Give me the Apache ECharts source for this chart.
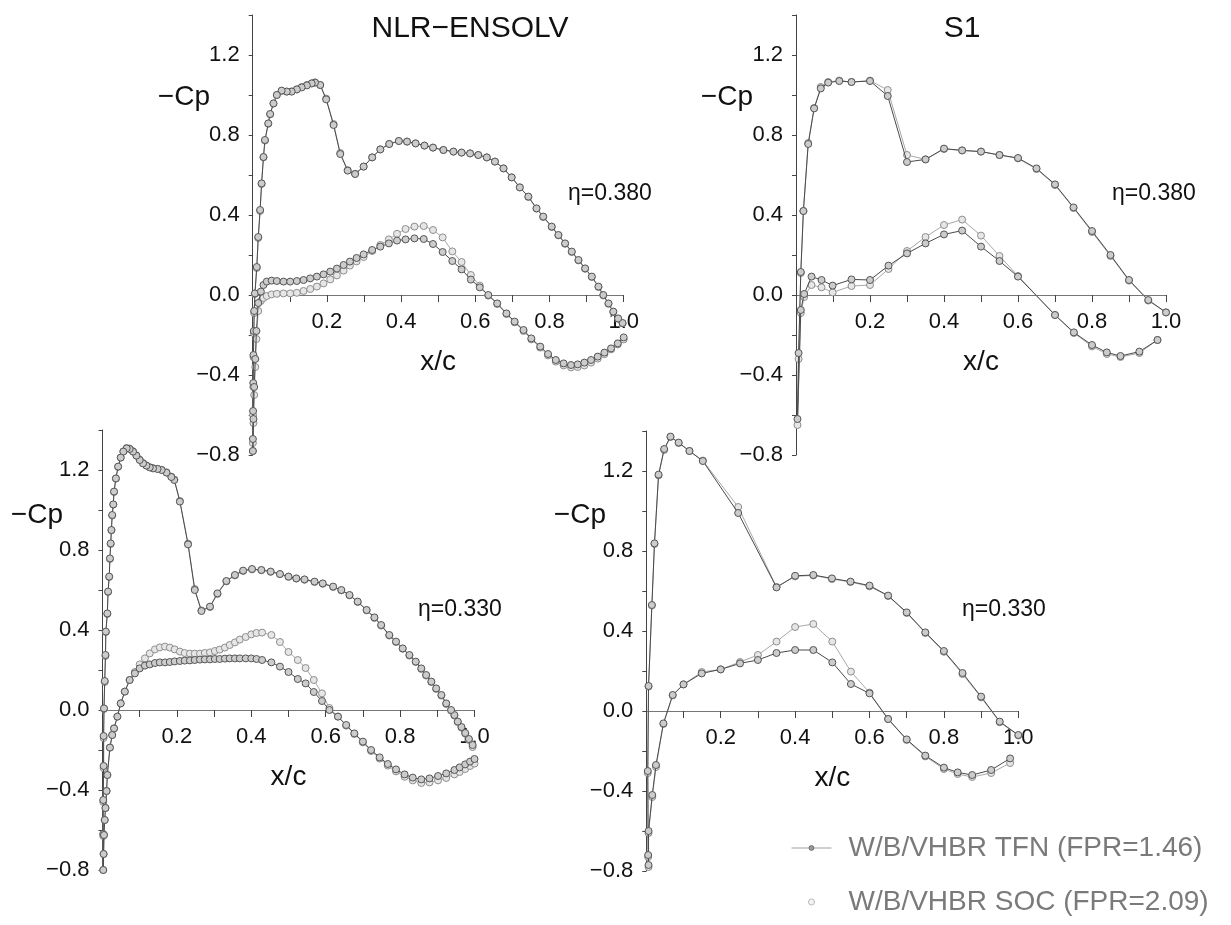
<!DOCTYPE html>
<html>
<head>
<meta charset="utf-8">
<title>Wing section pressure distributions</title>
<script src="https://cdn.jsdelivr.net/npm/echarts@6.0.0/dist/echarts.min.js"></script>
<style>
  html, body { margin: 0; padding: 0; background: #ffffff; }
  #chart { width: 1231px; height: 925px; }
</style>
</head>
<body>
<div id="chart"></div>
<script>
// ---- NLR-ENSOLV, eta = 0.380 ----
const nlr38_upperX   = [0.0005,0.001,0.0015,0.002,0.003,0.004,0.006,0.011,0.015,0.020,0.024,0.029,0.033,0.042,0.047,0.056,0.065,0.078,0.092,0.105,0.119,0.132,0.146,0.159,0.168,0.182,0.198,0.218,0.236,0.256,0.276,0.299,0.322,0.344,0.368,0.394,0.416,0.439,0.463,0.486,0.514,0.541,0.563,0.586,0.608,0.631,0.653,0.676,0.698,0.72,0.743,0.765,0.783,0.806,0.824,0.842,0.86,0.878,0.896,0.914,0.932,0.945,0.959,0.972,0.985,0.997];
const nlr38_upperTFN = [-0.72,-0.58,-0.44,-0.3,-0.18,-0.08,0.008,0.14,0.29,0.425,0.558,0.69,0.775,0.858,0.905,0.958,1.0,1.022,1.017,1.017,1.028,1.038,1.048,1.058,1.062,1.05,0.978,0.85,0.705,0.622,0.605,0.642,0.688,0.728,0.755,0.77,0.767,0.758,0.747,0.737,0.725,0.717,0.712,0.708,0.70,0.688,0.667,0.633,0.588,0.538,0.492,0.433,0.392,0.342,0.30,0.258,0.217,0.175,0.133,0.092,0.042,0.0,-0.042,-0.083,-0.117,-0.14];
const nlr38_upperSOC = [-0.74,-0.6,-0.46,-0.31,-0.19,-0.09,0.005,0.135,0.285,0.42,0.555,0.688,0.772,0.856,0.903,0.957,1.0,1.02,1.017,1.018,1.028,1.04,1.05,1.058,1.063,1.05,0.982,0.855,0.71,0.624,0.606,0.642,0.688,0.728,0.755,0.77,0.767,0.758,0.747,0.737,0.725,0.717,0.712,0.708,0.70,0.688,0.667,0.633,0.588,0.538,0.49,0.432,0.39,0.34,0.298,0.256,0.215,0.173,0.131,0.09,0.04,-0.002,-0.044,-0.085,-0.119,-0.142];
const nlr38_lowerX   = [0.0005,0.002,0.004,0.007,0.010,0.015,0.022,0.029,0.038,0.051,0.065,0.083,0.101,0.119,0.137,0.155,0.173,0.191,0.209,0.227,0.245,0.262,0.28,0.299,0.322,0.344,0.367,0.389,0.412,0.436,0.461,0.486,0.512,0.538,0.563,0.588,0.612,0.635,0.659,0.684,0.706,0.73,0.751,0.775,0.796,0.817,0.838,0.858,0.876,0.894,0.912,0.93,0.948,0.966,0.984,1.0];
const nlr38_lowerTFN = [-0.78,-0.62,-0.46,-0.32,-0.18,-0.04,0.017,0.05,0.067,0.072,0.07,0.067,0.067,0.07,0.075,0.083,0.092,0.103,0.117,0.132,0.15,0.167,0.185,0.203,0.225,0.242,0.258,0.272,0.278,0.283,0.28,0.255,0.215,0.17,0.128,0.077,0.038,0.0,-0.042,-0.092,-0.133,-0.175,-0.217,-0.258,-0.295,-0.325,-0.342,-0.35,-0.347,-0.338,-0.325,-0.308,-0.288,-0.267,-0.242,-0.212];
const nlr38_lowerSOC = [-0.78,-0.64,-0.5,-0.36,-0.22,-0.08,-0.03,-0.015,-0.005,0.003,0.006,0.008,0.008,0.011,0.02,0.03,0.042,0.058,0.078,0.098,0.122,0.147,0.168,0.19,0.22,0.25,0.278,0.306,0.33,0.342,0.345,0.325,0.288,0.218,0.165,0.10,0.047,-0.003,-0.045,-0.095,-0.137,-0.18,-0.222,-0.263,-0.302,-0.333,-0.352,-0.362,-0.36,-0.352,-0.338,-0.318,-0.296,-0.272,-0.247,-0.222];

// ---- S1, eta = 0.380 ----
const s1_38_upperX   = [0.004,0.007,0.013,0.02,0.033,0.049,0.067,0.087,0.117,0.15,0.20,0.248,0.30,0.35,0.40,0.449,0.50,0.55,0.60,0.65,0.70,0.75,0.80,0.85,0.90,0.952,1.0];
const s1_38_upperTFN = [-0.62,-0.29,0.115,0.42,0.755,0.933,1.033,1.062,1.07,1.065,1.07,0.995,0.665,0.678,0.732,0.723,0.717,0.70,0.685,0.633,0.553,0.438,0.32,0.20,0.075,-0.025,-0.087];
const s1_38_upperSOC = [-0.65,-0.32,0.11,0.42,0.76,0.935,1.04,1.065,1.072,1.065,1.072,1.025,0.70,0.678,0.73,0.723,0.717,0.70,0.683,0.63,0.55,0.435,0.315,0.195,0.072,-0.028,-0.087];
const s1_38_lowerX   = [0.013,0.022,0.042,0.069,0.099,0.15,0.20,0.25,0.30,0.35,0.40,0.449,0.50,0.55,0.60,0.70,0.751,0.80,0.84,0.877,0.928,0.977];
const s1_38_lowerTFN = [-0.075,0.005,0.092,0.075,0.047,0.078,0.075,0.147,0.208,0.258,0.303,0.322,0.242,0.17,0.092,-0.10,-0.187,-0.25,-0.287,-0.305,-0.283,-0.225];
const s1_38_lowerSOC = [-0.09,-0.01,0.05,0.038,0.013,0.045,0.05,0.13,0.22,0.29,0.35,0.377,0.297,0.195,0.095,-0.10,-0.19,-0.257,-0.295,-0.31,-0.29,-0.225];

// ---- NLR-ENSOLV, eta = 0.330 ----
const nlr33_upperX   = [0.002,0.002,0.003,0.003,0.004,0.006,0.008,0.009,0.013,0.015,0.018,0.020,0.022,0.024,0.026,0.029,0.031,0.036,0.042,0.049,0.056,0.065,0.073,0.082,0.091,0.10,0.109,0.118,0.127,0.136,0.148,0.159,0.172,0.185,0.193,0.208,0.23,0.248,0.266,0.289,0.309,0.333,0.356,0.378,0.402,0.427,0.452,0.477,0.50,0.521,0.543,0.57,0.592,0.62,0.642,0.664,0.686,0.71,0.731,0.749,0.771,0.789,0.807,0.825,0.842,0.857,0.87,0.884,0.897,0.911,0.924,0.937,0.946,0.955,0.965,0.975,0.985,0.995];
const nlr33_upperTFN = [-0.62,-0.45,-0.28,-0.13,0.008,0.145,0.275,0.392,0.483,0.592,0.667,0.758,0.833,0.90,0.975,1.028,1.092,1.158,1.217,1.262,1.292,1.308,1.305,1.292,1.272,1.25,1.233,1.222,1.213,1.208,1.205,1.20,1.187,1.165,1.15,1.042,0.828,0.60,0.495,0.517,0.583,0.645,0.675,0.697,0.705,0.70,0.692,0.68,0.667,0.658,0.653,0.642,0.633,0.617,0.60,0.575,0.542,0.50,0.463,0.425,0.375,0.342,0.308,0.275,0.242,0.208,0.175,0.142,0.108,0.075,0.033,0.0,-0.025,-0.058,-0.085,-0.115,-0.145,-0.175];
const nlr33_upperSOC = [-0.63,-0.46,-0.29,-0.14,0.005,0.14,0.27,0.39,0.48,0.59,0.665,0.755,0.83,0.898,0.972,1.027,1.09,1.157,1.216,1.262,1.293,1.31,1.307,1.294,1.274,1.252,1.235,1.223,1.214,1.209,1.206,1.201,1.188,1.167,1.152,1.045,0.832,0.605,0.498,0.515,0.58,0.643,0.673,0.695,0.703,0.699,0.691,0.679,0.666,0.657,0.651,0.64,0.631,0.615,0.598,0.573,0.54,0.498,0.46,0.422,0.372,0.34,0.306,0.272,0.24,0.205,0.172,0.14,0.105,0.072,0.03,-0.003,-0.028,-0.06,-0.088,-0.118,-0.15,-0.185];
const nlr33_lowerX   = [0.002,0.003,0.004,0.006,0.008,0.011,0.013,0.02,0.026,0.031,0.04,0.049,0.06,0.073,0.087,0.10,0.114,0.127,0.141,0.154,0.168,0.181,0.194,0.208,0.221,0.235,0.248,0.262,0.275,0.289,0.302,0.315,0.329,0.342,0.356,0.369,0.385,0.40,0.414,0.429,0.454,0.477,0.50,0.525,0.546,0.568,0.59,0.61,0.633,0.655,0.677,0.70,0.722,0.745,0.767,0.789,0.812,0.834,0.857,0.879,0.902,0.924,0.946,0.96,0.975,0.988,1.0];
const nlr33_lowerTFN = [-0.80,-0.72,-0.625,-0.55,-0.49,-0.405,-0.325,-0.188,-0.125,-0.092,-0.033,0.033,0.092,0.15,0.183,0.208,0.222,0.228,0.235,0.238,0.238,0.24,0.243,0.245,0.247,0.248,0.25,0.252,0.253,0.253,0.255,0.255,0.257,0.258,0.258,0.258,0.258,0.258,0.255,0.25,0.238,0.217,0.19,0.155,0.133,0.09,0.045,0.0,-0.033,-0.075,-0.117,-0.158,-0.20,-0.237,-0.27,-0.297,-0.322,-0.338,-0.347,-0.342,-0.33,-0.317,-0.30,-0.287,-0.272,-0.258,-0.245];
const nlr33_lowerSOC = [-0.80,-0.72,-0.625,-0.55,-0.49,-0.405,-0.325,-0.188,-0.125,-0.092,-0.033,0.033,0.092,0.15,0.19,0.228,0.258,0.283,0.303,0.313,0.317,0.312,0.303,0.292,0.285,0.282,0.282,0.282,0.285,0.288,0.295,0.302,0.312,0.325,0.338,0.352,0.365,0.378,0.385,0.387,0.375,0.34,0.29,0.25,0.21,0.15,0.083,0.01,-0.033,-0.078,-0.12,-0.162,-0.205,-0.243,-0.278,-0.307,-0.334,-0.352,-0.365,-0.362,-0.352,-0.34,-0.322,-0.31,-0.295,-0.28,-0.268];

// ---- S1, eta = 0.330 ----
const s1_33_upperX   = [0.004,0.006,0.015,0.022,0.033,0.048,0.065,0.087,0.116,0.152,0.247,0.35,0.40,0.449,0.499,0.549,0.60,0.65,0.70,0.75,0.80,0.85,0.90,0.95,1.0];
const s1_33_upperTFN = [-0.30,0.125,0.53,0.838,1.182,1.31,1.372,1.342,1.30,1.25,0.99,0.618,0.676,0.68,0.663,0.647,0.627,0.577,0.493,0.393,0.30,0.19,0.072,-0.053,-0.12];
const s1_33_upperSOC = [-0.31,0.122,0.528,0.835,1.178,1.305,1.37,1.34,1.30,1.252,1.02,0.62,0.673,0.678,0.66,0.645,0.623,0.575,0.49,0.39,0.296,0.185,0.068,-0.056,-0.122];
const s1_33_lowerX   = [0.005,0.006,0.006,0.016,0.026,0.046,0.071,0.10,0.149,0.20,0.252,0.30,0.35,0.40,0.449,0.50,0.55,0.60,0.65,0.70,0.75,0.80,0.837,0.876,0.927,0.978];
const s1_33_lowerTFN = [-0.72,-0.77,-0.60,-0.42,-0.27,-0.062,0.08,0.133,0.188,0.208,0.238,0.255,0.29,0.305,0.305,0.243,0.135,0.088,-0.04,-0.142,-0.223,-0.283,-0.307,-0.32,-0.295,-0.237];
const s1_33_lowerSOC = [-0.73,-0.78,-0.61,-0.43,-0.28,-0.065,0.078,0.133,0.195,0.208,0.245,0.28,0.347,0.42,0.435,0.347,0.197,0.092,-0.04,-0.145,-0.227,-0.29,-0.315,-0.33,-0.31,-0.26];

// ---- labels ----
const seriesNames = ['W/B/VHBR TFN (FPR=1.46)', 'W/B/VHBR SOC (FPR=2.09)'];
const panelTitles = ['NLR\u2212ENSOLV', 'S1'];
const etaLabels = ['\u03b7=0.380', '\u03b7=0.380', '\u03b7=0.330', '\u03b7=0.330'];
const yName = '\u2212Cp';
const xName = 'x/c';

const FONT = '"Liberation Sans", Arial, Helvetica, sans-serif';
const Y_MIN = -0.8, Y_MAX = 1.4;

// One closed contour per configuration: upper surface from the trailing edge
// forward to the leading edge, then the lower surface back to the trailing edge.
function contour(upX, upY, loX, loY) {
  const pts = [];
  for (let i = upX.length - 1; i >= 0; i--) pts.push([upX[i], upY[i]]);
  for (let i = 0; i < loX.length; i++) pts.push([loX[i], loY[i]]);
  return pts;
}

const panels = [
  { grid: { left: 252.7, top: 15, width: 371, height: 440 },
    tfn: contour(nlr38_upperX, nlr38_upperTFN, nlr38_lowerX, nlr38_lowerTFN),
    soc: contour(nlr38_upperX, nlr38_upperSOC, nlr38_lowerX, nlr38_lowerSOC),
    cp: [210, 97], eta: [568, 194] },
  { grid: { left: 796, top: 15, width: 370, height: 440 },
    tfn: contour(s1_38_upperX, s1_38_upperTFN, s1_38_lowerX, s1_38_lowerTFN),
    soc: contour(s1_38_upperX, s1_38_upperSOC, s1_38_lowerX, s1_38_lowerSOC),
    cp: [753, 97], eta: [1112, 194] },
  { grid: { left: 102.5, top: 430, width: 372, height: 440 },
    tfn: contour(nlr33_upperX, nlr33_upperTFN, nlr33_lowerX, nlr33_lowerTFN),
    soc: contour(nlr33_upperX, nlr33_upperSOC, nlr33_lowerX, nlr33_lowerSOC),
    cp: [63, 515], eta: [418, 610] },
  { grid: { left: 646.3, top: 431, width: 372, height: 440 },
    tfn: contour(s1_33_upperX, s1_33_upperTFN, s1_33_lowerX, s1_33_lowerTFN),
    soc: contour(s1_33_upperX, s1_33_upperSOC, s1_33_lowerX, s1_33_lowerSOC),
    cp: [606, 515], eta: [962, 610] }
];

function fmtX(v) {
  const r = Math.round(v * 10);
  return (r > 0 && r % 2 === 0) ? (r / 10).toFixed(1) : '';
}
function fmtY(v) {
  const r = Math.round(v * 10);
  if (r % 4 !== 0) return '';
  return (r < 0 ? '\u2212' : '') + (Math.abs(r) / 10).toFixed(1);
}

const grids = [], xAxes = [], yAxes = [], series = [], graphics = [];
panels.forEach((p, i) => {
  grids.push(Object.assign({ outerBoundsMode: 'none', containLabel: false }, p.grid));
  // the chord axis runs along -Cp = 0: shift it up from the grid bottom
  const zeroOffset = -p.grid.height * (0 - Y_MIN) / (Y_MAX - Y_MIN);
  xAxes.push({
    type: 'value', gridIndex: i, min: 0, max: 1, interval: 0.1,
    position: 'bottom', offset: zeroOffset,
    name: xName, nameLocation: 'middle', nameGap: 53, nameMoveOverlap: false,
    nameTextStyle: { fontSize: 28, color: '#111', fontFamily: FONT },
    axisLine: { show: true, onZero: false, lineStyle: { color: '#777', width: 1 } },
    axisTick: { show: true, inside: false, length: 7, lineStyle: { color: '#444', width: 1 } },
    axisLabel: { show: true, margin: 16, fontSize: 22, color: '#111', fontFamily: FONT,
                 formatter: fmtX, showMinLabel: true, showMaxLabel: true, hideOverlap: false },
    splitLine: { show: false }, minorTick: { show: false }
  });
  yAxes.push({
    type: 'value', gridIndex: i, min: Y_MIN, max: Y_MAX, interval: 0.2,
    axisLine: { show: true, onZero: false, lineStyle: { color: '#444', width: 1 } },
    axisTick: { show: true, inside: false, length: 4, lineStyle: { color: '#444', width: 1 } },
    axisLabel: { show: true, margin: 13, fontSize: 22, color: '#111', fontFamily: FONT,
                 formatter: fmtY, showMinLabel: true, showMaxLabel: true, hideOverlap: false },
    splitLine: { show: false }
  });
  series.push({
    name: seriesNames[1], type: 'line', xAxisIndex: i, yAxisIndex: i,
    data: p.soc, symbol: 'circle', symbolSize: 7, showSymbol: true, clip: false,
    lineStyle: { color: '#a8a8a8', width: 1 },
    itemStyle: { color: '#e6e6e6', borderColor: '#8e8e8e', borderWidth: 1 },
    emphasis: { disabled: true }, z: 2
  });
  series.push({
    name: seriesNames[0], type: 'line', xAxisIndex: i, yAxisIndex: i,
    data: p.tfn, symbol: 'circle', symbolSize: 7, showSymbol: true, clip: false,
    lineStyle: { color: '#4a4a4a', width: 1 },
    itemStyle: { color: '#cccccc', borderColor: '#555555', borderWidth: 1 },
    emphasis: { disabled: true }, z: 3
  });
  graphics.push({
    type: 'text', x: p.cp[0], y: p.cp[1], silent: true,
    style: { text: yName, font: '28px ' + FONT, fill: '#111', align: 'right', verticalAlign: 'middle' }
  });
  graphics.push({
    type: 'text', x: p.eta[0], y: p.eta[1], silent: true,
    style: { text: etaLabels[i], font: '23px ' + FONT, fill: '#111', align: 'left', verticalAlign: 'middle' }
  });
});

const chart = echarts.init(document.getElementById('chart'), null, { renderer: 'canvas' });
chart.setOption({
  animation: false,
  backgroundColor: '#ffffff',
  title: [
    { text: panelTitles[0], left: 470, top: 14, padding: 0, textAlign: 'center',
      textStyle: { fontSize: 30, fontWeight: 'normal', color: '#111', fontFamily: FONT } },
    { text: panelTitles[1], left: 962, top: 14, padding: 0, textAlign: 'center',
      textStyle: { fontSize: 30, fontWeight: 'normal', color: '#111', fontFamily: FONT } }
  ],
  legend: {
    orient: 'vertical', left: 791, top: 834, padding: 0, itemGap: 26,
    itemWidth: 40, itemHeight: 6, selectedMode: false,
    textStyle: { fontSize: 28, color: '#7a7a7a', fontFamily: FONT, padding: [0, 0, 0, 12] },
    data: [
      { name: seriesNames[0], lineStyle: { color: '#a0a0a0', width: 1 },
        itemStyle: { color: '#9a9a9a', borderColor: '#707070', borderWidth: 1 } },
      { name: seriesNames[1], icon: 'circle',
        itemStyle: { color: '#f4f4f4', borderColor: '#b8b8b8', borderWidth: 1 } }
    ]
  },
  tooltip: { show: false },
  grid: grids,
  xAxis: xAxes,
  yAxis: yAxes,
  series: series,
  graphic: graphics
});
</script>
</body>
</html>
